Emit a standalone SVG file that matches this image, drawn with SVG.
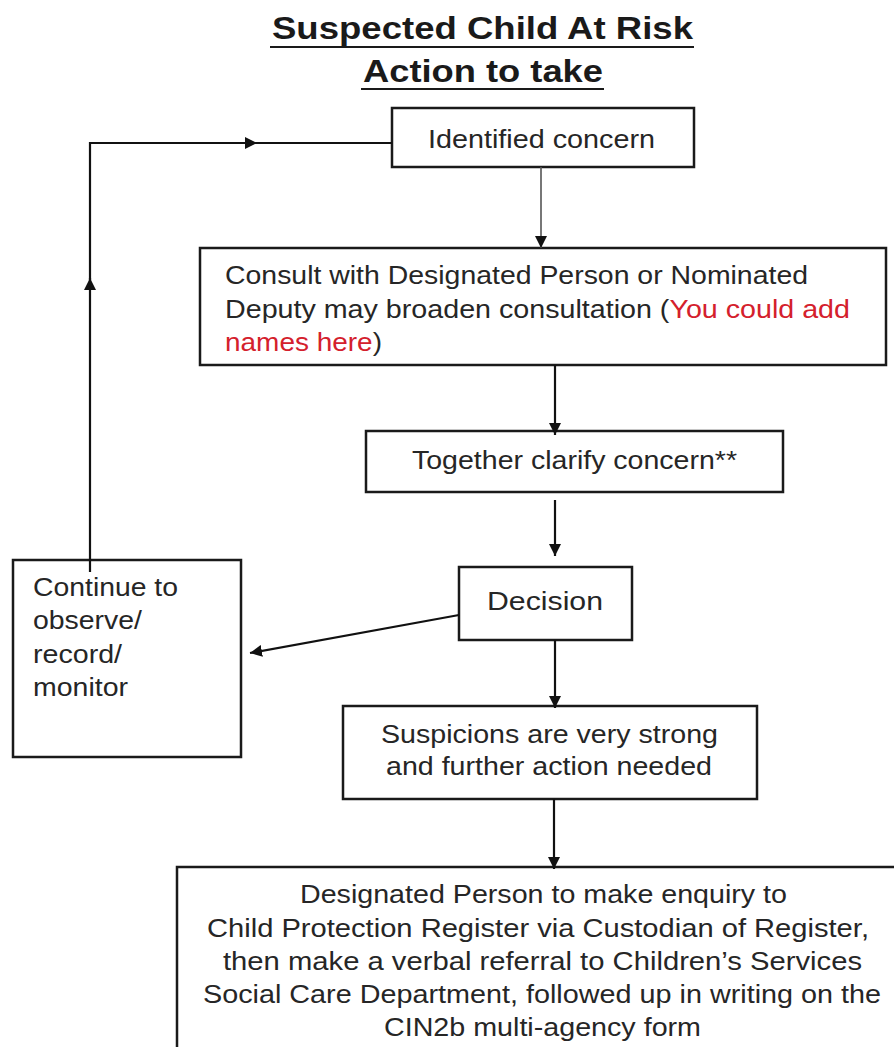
<svg xmlns="http://www.w3.org/2000/svg" width="894" height="1047" viewBox="0 0 894 1047">
<defs>
<marker id="ah" markerUnits="userSpaceOnUse" markerWidth="14" markerHeight="12" refX="12" refY="6" orient="auto"><path d="M0,0 L12,6 L0,12 z" fill="#111"/></marker>
</defs>
<style>
.box{fill:#fff;stroke:#1a1a1a;stroke-width:2.5}
.t{font-family:"Liberation Sans",Arial,sans-serif;font-size:26px;fill:#262626}
.c{fill:none;stroke:#111;stroke-width:2.2}
.thin{fill:none;stroke:#555;stroke-width:1.6}
.red{fill:#d4202c}
.title{font-family:"Liberation Sans",Arial,sans-serif;font-weight:bold;font-size:32px;fill:#1a1a1a}
.ul{stroke:#1a1a1a;stroke-width:2.2}
</style>
<rect width="894" height="1047" fill="#fff"/>
<g id="title">
<text class="title" x="272" y="39" textLength="421" lengthAdjust="spacingAndGlyphs">Suspected Child At Risk</text>
<line class="ul" x1="270" y1="47" x2="694" y2="47"/>
<text class="title" x="363" y="82" textLength="240" lengthAdjust="spacingAndGlyphs">Action to take</text>
<line class="ul" x1="361" y1="89" x2="604" y2="89"/>
</g>
<g id="identified">
<rect class="box" x="392" y="108" width="302" height="59"/>
<text class="t" x="428" y="148" textLength="227" lengthAdjust="spacingAndGlyphs">Identified concern</text>
</g>
<g id="consult">
<rect class="box" x="200" y="248" width="686" height="117"/>
<text class="t" x="225" y="284" textLength="583" lengthAdjust="spacingAndGlyphs">Consult with Designated Person or Nominated</text>
<text class="t" x="225" y="318" textLength="625" lengthAdjust="spacingAndGlyphs">Deputy may broaden consultation (<tspan class="red">You could add</tspan></text>
<text class="t" x="225" y="351" textLength="157" lengthAdjust="spacingAndGlyphs"><tspan class="red">names here</tspan>)</text>
</g>
<g id="together">
<rect class="box" x="366" y="431" width="417" height="61"/>
<text class="t" x="412" y="469" textLength="325" lengthAdjust="spacingAndGlyphs">Together clarify concern**</text>
</g>
<g id="decision">
<rect class="box" x="459" y="567" width="173" height="73"/>
<text class="t" x="487" y="610" font-size="30" textLength="116" lengthAdjust="spacingAndGlyphs">Decision</text>
</g>
<g id="continue">
<rect class="box" x="13" y="560" width="228" height="197"/>
<text class="t" x="33" y="596" textLength="145" lengthAdjust="spacingAndGlyphs">Continue to</text>
<text class="t" x="33" y="629" textLength="109" lengthAdjust="spacingAndGlyphs">observe/</text>
<text class="t" x="33" y="663" textLength="89" lengthAdjust="spacingAndGlyphs">record/</text>
<text class="t" x="33" y="696" textLength="95" lengthAdjust="spacingAndGlyphs">monitor</text>
</g>
<g id="suspicions">
<rect class="box" x="343" y="706" width="414" height="93"/>
<text class="t" x="381" y="743" textLength="337" lengthAdjust="spacingAndGlyphs">Suspicions are very strong</text>
<text class="t" x="386" y="775" textLength="326" lengthAdjust="spacingAndGlyphs">and further action needed</text>
</g>
<g id="referral">
<rect class="box" x="177" y="867" width="740" height="200"/>
<text class="t" x="300" y="903" textLength="487" lengthAdjust="spacingAndGlyphs">Designated Person to make enquiry to</text>
<text class="t" x="207" y="937" textLength="662" lengthAdjust="spacingAndGlyphs">Child Protection Register via Custodian of Register,</text>
<text class="t" x="223" y="970" textLength="639" lengthAdjust="spacingAndGlyphs">then make a verbal referral to  Children’s Services</text>
<text class="t" x="203" y="1003" textLength="678" lengthAdjust="spacingAndGlyphs">Social Care Department, followed up in writing on the</text>
<text class="t" x="384" y="1036" textLength="317" lengthAdjust="spacingAndGlyphs">CIN2b multi-agency form</text>
</g>
<g id="connectors">
<path class="c" d="M90,572 V278" marker-end="url(#ah)"/>
<path class="c" d="M90,280 V143 H257" marker-end="url(#ah)"/>
<path class="c" d="M255,143 H392"/>
<path class="thin" d="M541,167 V248" marker-end="url(#ah)"/>
<path class="c" d="M555,365 V435" marker-end="url(#ah)"/>
<path class="c" d="M555,500 V556" marker-end="url(#ah)"/>
<path class="c" d="M459,615 L250,653" marker-end="url(#ah)"/>
<path class="c" d="M555,640 V708" marker-end="url(#ah)"/>
<path class="c" d="M554,799 V869" marker-end="url(#ah)"/>
</g>
</svg>
